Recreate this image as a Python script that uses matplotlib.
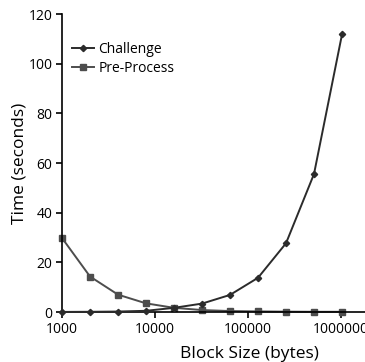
import matplotlib.pyplot as plt
from matplotlib.ticker import FixedLocator, FixedFormatter, NullLocator

plt.rcParams['font.family'] = ['Open Sans', 'DejaVu Sans']

block_size = [1000, 2000, 4000, 8000, 16000, 32000, 64000, 128000, 256000, 512000, 1024000]
challenge = [0.05, 0.1, 0.2, 0.5, 1.7, 3.4, 6.9, 13.8, 27.7, 55.6, 111.8]
pre_process = [29.8, 14.3, 7.0, 3.5, 1.7, 0.8, 0.4, 0.25, 0.15, 0.1, 0.1]

xticks = [1000, 10000, 100000, 1000000]
xtick_labels = ['1000', '10000', '100000', '1000000']
yticks = [0, 20, 40, 60, 80, 100, 120]

fig = plt.figure(figsize=(3.65, 3.62), dpi=100)
ax = fig.add_axes([0.170, 0.138, 0.830, 0.823])

ax.plot(block_size, challenge, color='#2b2b2b', lw=1.4, marker='D', ms=3.2,
        label='Challenge', clip_on=False, zorder=3)
ax.plot(block_size, pre_process, color='#4d4d4d', lw=1.4, marker='s', ms=4.5,
        label='Pre-Process', clip_on=False, zorder=2)

ax.set_xscale('log')
ax.set_xlim(1000, 1.81e6)
ax.set_ylim(0, 120)
ax.xaxis.set_major_locator(FixedLocator(xticks))
ax.xaxis.set_major_formatter(FixedFormatter(xtick_labels))
ax.xaxis.set_minor_locator(NullLocator())
ax.set_yticks(yticks)

for s in ['top', 'right']:
    ax.spines[s].set_visible(False)
for s in ['left', 'bottom']:
    ax.spines[s].set_linewidth(1.2)
    ax.spines[s].set_color('black')

ax.tick_params(axis='both', direction='out', length=4, width=1.2, labelsize=10,
               colors='black', pad=3)
for lbl in ax.get_xticklabels():
    lbl.set_clip_on(False)

ax.set_ylabel('Time (seconds)', fontsize=12.5)
ax.yaxis.set_label_coords(-0.115, 0.5)
ax.set_xlabel('Block Size (bytes)', fontsize=12.5)
ax.xaxis.set_label_coords(0.62, -0.115)

ax.legend(loc='upper left', bbox_to_anchor=(0.0, 0.94), frameon=False, fontsize=10,
          handlelength=1.6, handletextpad=0.3, labelspacing=0.3, borderaxespad=0.3)

fig.savefig('out.png', dpi=100)
